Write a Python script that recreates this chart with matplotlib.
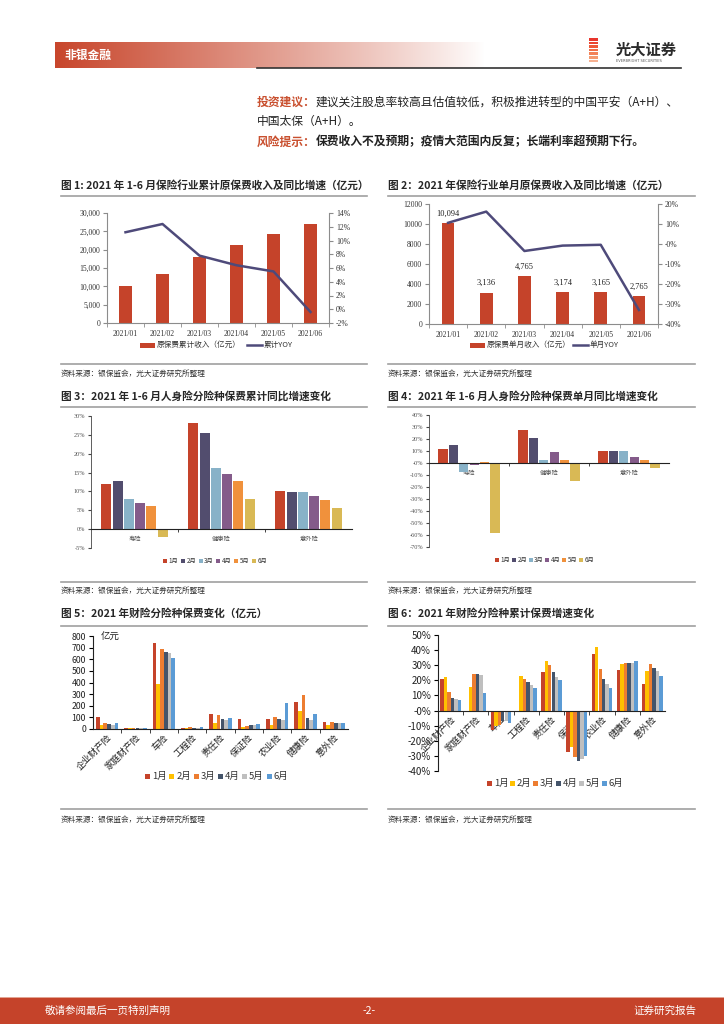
import matplotlib
matplotlib.use('Agg')
import matplotlib.pyplot as plt
from matplotlib.patches import Rectangle
from matplotlib.lines import Line2D
from matplotlib.ticker import FuncFormatter
import numpy as np

plt.rcParams['font.family'] = ['Noto Sans CJK SC', 'DejaVu Sans']
plt.rcParams['axes.unicode_minus'] = False

# ---------------- data ----------------
months = ['2021/01', '2021/02', '2021/03', '2021/04', '2021/05', '2021/06']
cum_premium = [10094, 13230, 17995, 21169, 24334, 27099]
cum_yoy = [11.2, 12.4, 7.8, 6.4, 5.5, -0.4]
month_premium = [10094, 3136, 4765, 3174, 3165, 2765]
month_yoy = [10.6, 16.2, -3.5, -0.8, -0.4, -33.0]

month_names = ['1月', '2月', '3月', '4月', '5月', '6月']
life_cats = ['寿险', '健康险', '意外险']
# rows = months, cols = categories
life_cum_yoy = [
    [11.9, 28.2, 10.1],
    [12.7, 25.5, 9.8],
    [8.0, 16.1, 9.8],
    [6.8, 14.7, 8.9],
    [6.2, 12.8, 7.7],
    [-2.1, 8.0, 5.7],
]
life_single_yoy = [
    [11.3, 27.8, 9.7],
    [15.0, 20.5, 9.7],
    [-7.8, 2.8, 9.7],
    [-2.0, 9.2, 5.3],
    [1.0, 2.2, 2.8],
    [-58.3, -15.0, -4.5],
]
pc_cats = ['企业财产险', '家庭财产险', '车险', '工程险', '责任险', '保证险', '农业险', '健康险', '意外险']
pc_premium = [
    [105, 10, 738, 12, 131, 89, 89, 234, 63],
    [34, 10, 383, 8, 51, 17, 34, 157, 31],
    [54, 10, 686, 14, 120, 29, 103, 289, 57],
    [43, 9, 663, 9, 86, 31, 86, 97, 49],
    [34, 9, 655, 9, 77, 34, 77, 77, 49],
    [51, 7, 611, 13, 97, 43, 226, 129, 51],
]
pc_cum_yoy = [
    [21.2, 0.0, -12.6, 0.0, 25.2, -27.6, 37.5, 26.7, 17.9],
    [22.3, 15.7, -10.0, 22.7, 33.1, -24.3, 42.2, 30.5, 26.3],
    [12.4, 24.5, -9.3, 21.2, 30.0, -30.7, 27.8, 31.8, 30.5],
    [8.4, 24.5, -7.1, 18.8, 25.2, -33.1, 21.0, 31.8, 28.3],
    [7.9, 23.8, -7.0, 17.2, 22.3, -31.8, 17.9, 31.3, 26.5],
    [7.3, 11.3, -8.2, 14.6, 20.5, -29.8, 15.0, 32.5, 22.7],
]

RED = '#C5432A'
LINE = '#4E4A7A'
LIFE_COLORS = ['#C5432A', '#524D6E', '#88B2C8', '#845B8A', '#F0913C', '#D9B955']
PC_COLORS = ['#C5432A', '#FFC000', '#ED7D31', '#44546A', '#BFBFBF', '#5B9BD5']
SERIF = 'Liberation Serif'

W, H = 724, 1024
fig = plt.figure(figsize=(W / 100, H / 100), dpi=100)
renderer = fig.canvas.get_renderer()


def fx(x):
    return x / W


def fy(y):
    return 1 - y / H


def pax(l, t, r, b):
    return fig.add_axes([l / W, 1 - b / H, (r - l) / W, (b - t) / H])


def ftext(x, y, s, **kw):
    return fig.text(fx(x), fy(y), s, **kw)


def hline(x1, x2, y, color='#A0A0A0', lw=1.2):
    fig.add_artist(Line2D([fx(x1), fx(x2)], [fy(y), fy(y)], color=color, lw=lw,
                          transform=fig.transFigure))


def rect(x, y, w, h, color, **kw):
    fig.add_artist(Rectangle((fx(x), fy(y + h)), w / W, h / H, color=color,
                             transform=fig.transFigure, lw=0, **kw))


def parts_line(x, y, parts, size):
    for txt, color, weight in parts:
        t = ftext(x, y, txt, color=color, fontsize=size, fontweight=weight,
                  va='center', ha='left')
        bb = t.get_window_extent(renderer=renderer)
        x += bb.width


# ---------------- header ----------------
gax = pax(55, 42, 485, 68)
grad = np.linspace(0, 1, 256)
c0 = np.array([0xC8, 0x46, 0x2C]) / 255.0
img = np.zeros((1, 256, 3))
for i, g in enumerate(grad):
    a = (1 - g) ** 0.9
    img[0, i] = c0 * a + np.array([1, 1, 1]) * (1 - a)
gax.imshow(img, aspect='auto', extent=[0, 1, 0, 1])
gax.axis('off')
ftext(64, 55, '非银金融', color='white', fontsize=8.5, fontweight='bold', va='center')

# logo
stripe_cols = ['#E8352C', '#EB4530', '#EE5A3A', '#F06E48', '#F28258', '#F49A70', '#F6B090']
for i, c in enumerate(stripe_cols):
    rect(589, 38 + i * 3.6, 9, 2.6, c)
ftext(616, 50, '光大证券', color='#2B2B2B', fontsize=11, fontweight='bold', va='center')
ftext(616, 60.5, 'EVERBRIGHT SECURITIES', color='#555555', fontsize=2.6, va='center',
      family='DejaVu Sans')
hline(257, 681, 68, color='#333333', lw=1.2)

# body text
parts_line(257, 102, [('投资建议：', '#C9502F', 'bold'),
                      ('建议关注股息率较高且估值较低，积极推进转型的中国平安（A+H）、', '#222222', 'normal')], 8.5)
parts_line(257, 121, [('中国太保（A+H）。', '#222222', 'normal')], 8.5)
parts_line(257, 142, [('风险提示：', '#C9502F', 'bold'),
                      ('保费收入不及预期；疫情大范围内反复；长端利率超预期下行。', '#222222', 'bold')], 8.5)

# ---------------- frames (titles, rules, source) ----------------
titles = [
    (61, 185, '图 1: 2021 年 1-6 月保险行业累计原保费收入及同比增速（亿元）'),
    (388, 185, '图 2：2021 年保险行业单月原保费收入及同比增速（亿元）'),
    (61, 396, '图 3：2021 年 1-6 月人身险分险种保费累计同比增速变化'),
    (388, 396, '图 4：2021 年 1-6 月人身险分险种保费单月同比增速变化'),
    (61, 613, '图 5：2021 年财险分险种保费变化（亿元）'),
    (388, 613, '图 6：2021 年财险分险种累计保费增速变化'),
]
for x, y, s in titles:
    ftext(x, y, s, fontsize=7.7, fontweight='bold', color='#262626', va='center')
for yt, yb, ys in [(196, 364, 374), (407, 582, 591), (626, 809, 820)]:
    for x1, x2 in [(61, 367), (388, 695)]:
        hline(x1, x2, yt)
        hline(x1, x2, yb)
        ftext(x1, ys, '资料来源：银保监会，光大证券研究所整理', fontsize=5.5,
              color='#333333', va='center')


def serif_ticks(ax, axis='both'):
    labs = []
    if axis in ('both', 'x'):
        labs += ax.get_xticklabels()
    if axis in ('both', 'y'):
        labs += ax.get_yticklabels()
    for lab in labs:
        lab.set_family(SERIF)


GRAY = '#8C8C8C'

# ---------------- chart 1 ----------------
x6 = np.arange(6)
ax1 = pax(107, 213, 329, 323)
ax1.bar(x6, cum_premium, width=0.33, color=RED, zorder=2)
ax1.set_xlim(-0.5, 5.5)
ax1.set_ylim(0, 30000)
ax1.set_yticks(range(0, 30001, 5000))
ax1.yaxis.set_major_formatter(FuncFormatter(lambda v, p: f'{int(v):,}'))
ax1.set_xticks(x6)
ax1.set_xticklabels(months)
ax1.set_xticks(np.arange(-0.5, 6, 1), minor=True)
ax1.tick_params(axis='x', which='major', length=0, pad=5, labelsize=5.5, colors='#333333')
ax1.tick_params(axis='x', which='minor', length=3, color=GRAY)
ax1.tick_params(axis='y', length=3, color=GRAY, labelsize=5.5, pad=2, labelcolor='#333333')
for s in ['top', 'right']:
    ax1.spines[s].set_visible(False)
for s in ['left', 'bottom']:
    ax1.spines[s].set_color(GRAY)
    ax1.spines[s].set_linewidth(0.8)
serif_ticks(ax1)
ax1b = ax1.twinx()
ax1b.plot(x6, np.array(cum_yoy) / 100, color=LINE, lw=1.8, zorder=3)
ax1b.set_ylim(-0.02, 0.14)
ax1b.set_yticks(np.arange(-0.02, 0.1401, 0.02))
ax1b.yaxis.set_major_formatter(FuncFormatter(lambda v, p: f'{v * 100:.0f}%'))
ax1b.tick_params(axis='y', length=3, color=GRAY, labelsize=5.5, pad=2, labelcolor='#333333')
for s in ['top', 'left', 'bottom']:
    ax1b.spines[s].set_visible(False)
ax1b.spines['right'].set_color(GRAY)
ax1b.spines['right'].set_linewidth(0.8)
serif_ticks(ax1b, 'y')

rect(140, 342.5, 15, 5, RED)
ftext(157, 345, '原保费累计收入（亿元）', fontsize=5.5, va='center', color='#333333')
hline(247, 262, 345, color=LINE, lw=1.8)
ftext(264, 345, '累计YOY', fontsize=5.5, va='center', color='#333333')

# ---------------- chart 2 ----------------
ax2 = pax(429, 204, 658, 324)
ax2.bar(x6, month_premium, width=0.33, color=RED, zorder=2)
for xi, v in zip(x6, month_premium):
    ax2.annotate(f'{v:,}', (xi, v), xytext=(0, 4), textcoords='offset points',
                 ha='center', va='bottom', fontsize=6, family=SERIF, color='#222222')
ax2.set_xlim(-0.5, 5.5)
ax2.set_ylim(0, 12000)
ax2.set_yticks(range(0, 12001, 2000))
ax2.set_xticks(x6)
ax2.set_xticklabels(months)
ax2.set_xticks(np.arange(-0.5, 6, 1), minor=True)
ax2.tick_params(axis='x', which='major', length=0, pad=5, labelsize=5.5, colors='#333333')
ax2.tick_params(axis='x', which='minor', length=3, color=GRAY)
ax2.tick_params(axis='y', length=3, color=GRAY, labelsize=5.5, pad=2, labelcolor='#333333')
for s in ['top', 'right']:
    ax2.spines[s].set_visible(False)
for s in ['left', 'bottom']:
    ax2.spines[s].set_color(GRAY)
    ax2.spines[s].set_linewidth(0.8)
serif_ticks(ax2)
ax2b = ax2.twinx()
ax2b.plot(x6, np.array(month_yoy) / 100, color=LINE, lw=1.8, zorder=3)
ax2b.set_ylim(-0.40, 0.20)
ax2b.set_yticks(np.arange(-0.40, 0.2001, 0.10))
ax2b.yaxis.set_major_formatter(FuncFormatter(lambda v, p: f'{v * 100:.0f}%'))
ax2b.tick_params(axis='y', length=3, color=GRAY, labelsize=5.5, pad=2, labelcolor='#333333')
for s in ['top', 'left', 'bottom']:
    ax2b.spines[s].set_visible(False)
ax2b.spines['right'].set_color(GRAY)
ax2b.spines['right'].set_linewidth(0.8)
serif_ticks(ax2b, 'y')

rect(470, 342.5, 15, 5, RED)
ftext(487, 345, '原保费单月收入（亿元）', fontsize=5.5, va='center', color='#333333')
hline(573, 588, 345, color=LINE, lw=1.8)
ftext(590, 345, '单月YOY', fontsize=5.5, va='center', color='#333333')


# ---------------- grouped bar helper ----------------
def grouped(ax, data, colors, width, step, pct):
    n = len(data)
    ncat = len(data[0])
    xc = np.arange(ncat)
    for i, row in enumerate(data):
        off = (i - (n - 1) / 2) * step
        vals = np.array(row, dtype=float) / 100 if pct else np.array(row, dtype=float)
        ax.bar(xc + off, vals, width=width, color=colors[i], zorder=2, lw=0)
    ax.set_xlim(-0.5, ncat - 0.5)
    ax.set_xticks(xc)
    ax.set_xticks(np.arange(0.5, ncat - 0.5, 1), minor=True)


def legend_row(x0, step, y, colors, size, sq, gap):
    for i, (c, name) in enumerate(zip(colors, month_names)):
        x = x0 + i * step
        rect(x, y - sq / 2, sq, sq, c)
        ftext(x + sq + gap, y, name, fontsize=size, va='center', color='#333333')


pct_fmt = FuncFormatter(lambda v, p: f'{v * 100:.0f}%')

# ---------------- chart 3 ----------------
ax3 = pax(91, 416, 352, 548)
ax3.spines['bottom'].set_position(('data', 0))
grouped(ax3, life_cum_yoy, LIFE_COLORS, 0.115, 0.13, True)
ax3.set_ylim(-0.05, 0.30)
ax3.set_yticks(np.arange(-0.05, 0.3001, 0.05))
ax3.yaxis.set_major_formatter(pct_fmt)
ax3.set_xticklabels(life_cats)
for s in ['top', 'right']:
    ax3.spines[s].set_visible(False)
ax3.spines['bottom'].set_color('#222222')
ax3.spines['left'].set_color('#444444')
ax3.spines['left'].set_linewidth(0.6)
ax3.spines['bottom'].set_linewidth(0.8)
ax3.tick_params(axis='x', which='major', length=0, pad=4, labelsize=4.5, labelcolor='#555555')
ax3.tick_params(axis='x', which='minor', length=2, direction='out', color='#222222')
ax3.tick_params(axis='y', length=2, labelsize=4.5, pad=2, labelcolor='#555555', color='#444444')
serif_ticks(ax3, 'y')
legend_row(163, 17.8, 561, LIFE_COLORS, 4.5, 4, 1.5)

# ---------------- chart 4 ----------------
ax4 = pax(429, 415, 669, 547)
ax4.spines['bottom'].set_position(('data', 0))
grouped(ax4, life_single_yoy, LIFE_COLORS, 0.115, 0.13, True)
ax4.set_ylim(-0.70, 0.40)
ax4.set_yticks(np.arange(-0.70, 0.4001, 0.10))
ax4.yaxis.set_major_formatter(pct_fmt)
ax4.set_xticklabels(life_cats)
for s in ['top', 'right']:
    ax4.spines[s].set_visible(False)
ax4.spines['bottom'].set_color('#222222')
ax4.spines['left'].set_color('#444444')
ax4.spines['left'].set_linewidth(0.6)
ax4.spines['bottom'].set_linewidth(0.8)
ax4.tick_params(axis='x', which='major', length=0, pad=4, labelsize=4.5, labelcolor='#555555')
ax4.tick_params(axis='x', which='minor', length=2, direction='out', color='#222222')
ax4.tick_params(axis='y', length=2, labelsize=4.5, pad=2, labelcolor='#555555', color='#444444')
serif_ticks(ax4, 'y')
legend_row(495, 16.8, 560, LIFE_COLORS, 4.5, 4, 1.5)

# ---------------- chart 5 ----------------
ax5 = pax(93, 636, 348, 729)
grouped(ax5, pc_premium, PC_COLORS, 0.13, 0.133, False)
ax5.set_ylim(0, 800)
ax5.set_yticks(range(0, 801, 100))
ax5.set_xticklabels(pc_cats, rotation=45, ha='right', rotation_mode='anchor')
for s in ['top', 'right']:
    ax5.spines[s].set_visible(False)
for s in ['left', 'bottom']:
    ax5.spines[s].set_color('#222222')
    ax5.spines[s].set_linewidth(0.8)
ax5.tick_params(axis='x', which='major', length=0, pad=3, labelsize=6.6, labelcolor='#222222')
ax5.tick_params(axis='x', which='minor', length=3, direction='out', color='#222222')
ax5.tick_params(axis='y', length=3, labelsize=6.3, pad=2, labelcolor='#222222')
ax5.text(0.03, 0.985, '亿元', transform=ax5.transAxes, fontsize=6.8, va='center',
         ha='left', color='#222222')
legend_row(145, 24.3, 776, PC_COLORS, 6.8, 5, 2)

# ---------------- chart 6 ----------------
ax6 = pax(438, 635, 665, 771)
ax6.spines['bottom'].set_position(('data', 0))
grouped(ax6, pc_cum_yoy, PC_COLORS, 0.135, 0.138, True)
ax6.set_ylim(-0.40, 0.50)
ax6.set_yticks(np.arange(-0.40, 0.5001, 0.10))
ax6.yaxis.set_major_formatter(pct_fmt)
ax6.set_xticklabels(pc_cats, rotation=45, ha='right', rotation_mode='anchor')
for s in ['top', 'right']:
    ax6.spines[s].set_visible(False)
for s in ['left', 'bottom']:
    ax6.spines[s].set_color('#222222')
    ax6.spines[s].set_linewidth(0.8)
ax6.tick_params(axis='x', which='major', length=0, pad=3, labelsize=6.6, labelcolor='#222222')
ax6.tick_params(axis='x', which='minor', length=3, direction='out', color='#222222')
ax6.tick_params(axis='y', length=3, labelsize=7.0, pad=2, labelcolor='#222222')
legend_row(487, 22.9, 783, PC_COLORS, 6.8, 5, 2)

# ---------------- footer ----------------
rect(0, 996.5, W, 1.2, '#E2A493')
rect(0, 998, W, 26, RED)
ftext(45, 1011, '敬请参阅最后一页特别声明', color='white', fontsize=7.6, va='center')
ftext(369, 1011, '-2-', color='white', fontsize=7.6, va='center', ha='center')
ftext(696, 1011, '证券研究报告', color='white', fontsize=7.6, va='center', ha='right')

fig.savefig('out.png', dpi=100)
